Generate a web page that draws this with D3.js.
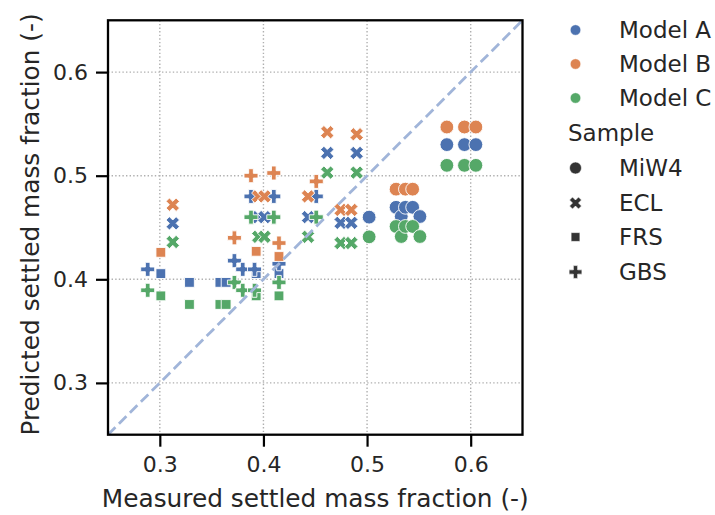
<!DOCTYPE html>
<html>
<head>
<meta charset="utf-8">
<script src="https://cdn.jsdelivr.net/npm/d3@7"></script>
<style>
  html, body { margin: 0; padding: 0; background: #fff; }
  svg { display: block; font-family: "DejaVu Sans", sans-serif; }
</style>
</head>
<body>
<svg id="chart" width="715" height="515"></svg>
<script>
// Model names, sample names and colours
const models = ["Model A", "Model B", "Model C"];
const modelColors = ["#4c72b0", "#dd8452", "#55a868"];
const samples = ["MiW4", "ECL", "FRS", "GBS"];
const sampleShapes = ["circle", "x", "square", "plus"];
const tickValues = [0.3, 0.4, 0.5, 0.6];

// MiW4: measured vs predicted (null where a model has no separate point)
const miw4Measured = [0.502, 0.528, 0.533, 0.537, 0.544, 0.551, 0.577, 0.594, 0.605];
const miw4ModelA   = [0.460, 0.4695, 0.4606, 0.4695, 0.4695, 0.4606, 0.530, 0.530, 0.530];
const miw4ModelB   = [null, 0.487, null, 0.487, 0.487, null, 0.547, 0.547, 0.547];
const miw4ModelC   = [0.441, 0.451, 0.4413, 0.451, 0.451, 0.4413, 0.510, 0.510, 0.510];

// ECL
const eclMeasured = [0.3125, 0.395, 0.401, 0.443, 0.4616, 0.4745, 0.4848, 0.490];
const eclModelA   = [0.454, 0.460, 0.460, 0.460, 0.522, 0.4545, 0.4545, 0.522];
const eclModelB   = [0.472, 0.480, 0.480, 0.480, 0.542, 0.467, 0.467, 0.540];
const eclModelC   = [0.436, 0.441, 0.441, 0.441, 0.503, 0.435, 0.435, 0.503];

// FRS
const frsMeasured = [0.301, 0.3286, 0.358, 0.364, 0.393, 0.415];
const frsModelA   = [0.4055, 0.397, 0.397, 0.397, 0.4055, 0.4055];
const frsModelB   = [0.426, null, null, null, 0.427, 0.422];
const frsModelC   = [0.384, 0.3757, 0.3757, 0.3757, 0.384, 0.384];

// GBS
const gbsMeasured = [0.2883, 0.372, 0.380, 0.388, 0.3914, 0.410, 0.415, 0.451];
const gbsModelA   = [0.4096, 0.418, 0.4096, 0.480, 0.4096, 0.480, 0.415, 0.480];
const gbsModelB   = [null, 0.440, null, 0.500, null, 0.5026, 0.435, 0.4945];
const gbsModelC   = [0.3894, 0.397, 0.3894, 0.460, 0.3894, 0.460, 0.397, 0.460];

const measuredBySample = [miw4Measured, eclMeasured, frsMeasured, gbsMeasured];
const predictedBySample = [
  [miw4ModelA, miw4ModelB, miw4ModelC],
  [eclModelA, eclModelB, eclModelC],
  [frsModelA, frsModelB, frsModelC],
  [gbsModelA, gbsModelB, gbsModelC]
];

// Long-format rows: one per (model, sample, measurement)
const points = [];
models.forEach((m, mi) => {
  samples.forEach((s, si) => {
    measuredBySample[si].forEach((mv, k) => {
      const pv = predictedBySample[si][mi][k];
      if (pv != null) points.push({ model: mi, sample: si, measured: mv, predicted: pv });
    });
  });
});

const svg = d3.select("#chart");
const plotLeft = 108, plotRight = 522.5, plotTop = 20.3, plotBottom = 434.7;

const x = d3.scaleLinear().domain([0.25, 0.65]).range([plotLeft, plotRight]);
const y = d3.scaleLinear().domain([0.25, 0.65]).range([plotBottom, plotTop]);

// Marker outlines (filled plus / filled X in the matplotlib style)
const plusPts = [[-1,-3],[-1,-1],[-3,-1],[-3,1],[-1,1],[-1,3],[1,3],[1,1],[3,1],[3,-1],[1,-1],[1,-3]].map(p => p.map(v => v / 3));
const xPts = [[-1,-2],[0,-1],[1,-2],[2,-1],[1,0],[2,1],[1,2],[0,1],[-1,2],[-2,1],[-1,0],[-2,-1]].map(p => p.map(v => v / 2));
function polyPath(pts, r) {
  return "M" + pts.map(([px, py]) => (px * r).toFixed(3) + "," + (py * r).toFixed(3)).join("L") + "Z";
}
function markerPath(shape, r) {
  if (shape === "circle") return `M${r},0A${r},${r} 0 1,1 ${-r},0A${r},${r} 0 1,1 ${r},0Z`;
  if (shape === "square") return `M${-r},${-r}H${r}V${r}H${-r}Z`;
  if (shape === "plus") return polyPath(plusPts, r);
  return polyPath(xPts, r);
}
const markerSize = { circle: 6.9, square: 4.9, plus: 7.0, x: 6.7 };

// Grid
const grid = svg.append("g");
tickValues.forEach(t => {
  grid.append("line").attr("x1", x(t)).attr("x2", x(t)).attr("y1", plotTop).attr("y2", plotBottom)
    .attr("stroke", "#b0b0b0").attr("stroke-width", 1.4).attr("stroke-dasharray", "1.4,2.2");
  grid.append("line").attr("y1", y(t)).attr("y2", y(t)).attr("x1", plotLeft).attr("x2", plotRight)
    .attr("stroke", "#b0b0b0").attr("stroke-width", 1.4).attr("stroke-dasharray", "1.4,2.2");
});

// Clip for plot area
svg.append("clipPath").attr("id", "plotClip").append("rect")
  .attr("x", plotLeft).attr("y", plotTop).attr("width", plotRight - plotLeft).attr("height", plotBottom - plotTop);

// Scatter points
svg.append("g").attr("clip-path", "url(#plotClip)")
  .selectAll("path").data(points).join("path")
  .attr("d", d => markerPath(sampleShapes[d.sample], markerSize[sampleShapes[d.sample]]))
  .attr("transform", d => `translate(${x(d.measured)},${y(d.predicted)})`)
  .attr("fill", d => modelColors[d.model])
  .attr("stroke", "#ffffff").attr("stroke-width", 0.9);

// 1:1 line
const diag = [0.25, 0.65];
svg.append("g").attr("clip-path", "url(#plotClip)").append("line")
  .attr("x1", x(diag[0])).attr("y1", y(diag[0])).attr("x2", x(diag[1])).attr("y2", y(diag[1]))
  .attr("stroke", "#a1b5d9").attr("stroke-width", 2.8).attr("stroke-dasharray", "10.5,5");

// Axes
const fmt = d3.format(".1f");
const xAxis = svg.append("g").attr("transform", `translate(0,${plotBottom})`)
  .call(d3.axisBottom(x).tickValues(tickValues).tickFormat(fmt).tickSize(12).tickPadding(10).tickSizeOuter(0));
const yAxis = svg.append("g").attr("transform", `translate(${plotLeft},0)`)
  .call(d3.axisLeft(y).tickValues(tickValues).tickFormat(fmt).tickSize(12).tickPadding(8).tickSizeOuter(0));
[xAxis, yAxis].forEach(g => {
  g.select(".domain").remove();
  g.selectAll(".tick line").attr("stroke", "#000").attr("stroke-width", 2.2);
  g.selectAll(".tick text").attr("fill", "#262626").attr("font-size", 22)
    .attr("font-family", "DejaVu Sans, sans-serif");
});

// Frame
svg.append("rect").attr("x", plotLeft).attr("y", plotTop).attr("width", plotRight - plotLeft).attr("height", plotBottom - plotTop)
  .attr("fill", "none").attr("stroke", "#000").attr("stroke-width", 2.3);

// Axis titles
svg.append("text").attr("x", (plotLeft + plotRight) / 2).attr("y", 507)
  .attr("text-anchor", "middle").attr("font-size", 24.8).attr("fill", "#262626")
  .text("Measured settled mass fraction (-)");
svg.append("text").attr("transform", `translate(39,${(plotTop + plotBottom) / 2 - 3}) rotate(-90)`)
  .attr("text-anchor", "middle").attr("font-size", 24.8).attr("fill", "#262626")
  .text("Predicted settled mass fraction (-)");

// Legend
const legend = svg.append("g");
const rowY = [30, 64, 98, 133, 168, 203, 237, 272];
models.forEach((m, i) => {
  legend.append("circle").attr("cx", 575.5).attr("cy", rowY[i]).attr("r", 5.3)
    .attr("fill", modelColors[i]).attr("stroke", "#fff").attr("stroke-width", 0.6);
  legend.append("text").attr("x", 619).attr("y", rowY[i] + 8.4).attr("font-size", 23).attr("fill", "#262626").text(m);
});
legend.append("text").attr("x", 568).attr("y", rowY[3] + 8.4).attr("font-size", 23).attr("fill", "#262626").text("Sample");
const legendSize = { circle: 6.0, square: 4.4, plus: 6.4, x: 6.0 };
samples.forEach((s, i) => {
  const yy = rowY[4 + i];
  legend.append("path").attr("d", markerPath(sampleShapes[i], legendSize[sampleShapes[i]]))
    .attr("transform", `translate(575.5,${yy})`).attr("fill", "#333333")
    .attr("stroke", "#fff").attr("stroke-width", 0.6);
  legend.append("text").attr("x", 619).attr("y", yy + 8.4).attr("font-size", 23).attr("fill", "#262626").text(s);
});
</script>
</body>
</html>
